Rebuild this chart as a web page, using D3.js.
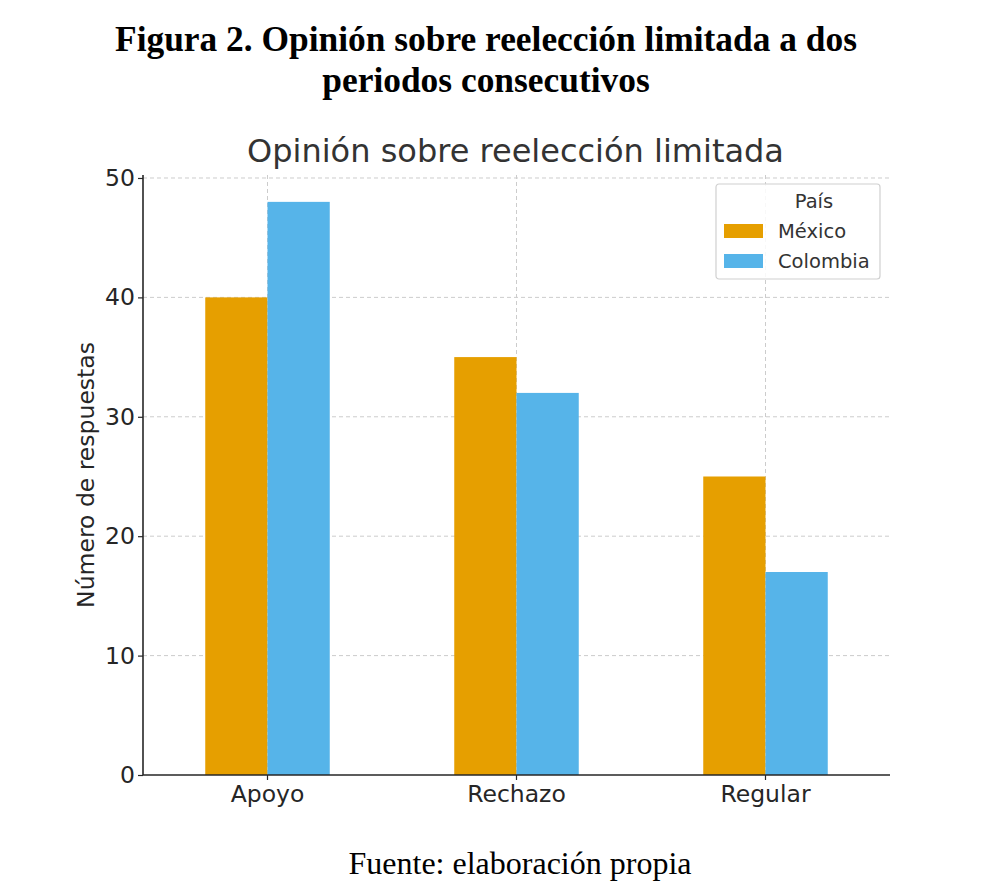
<!doctype html>
<html lang="es">
<head>
<meta charset="utf-8" />
<title>Opinión sobre reelección limitada</title>
<script src="https://cdn.jsdelivr.net/npm/d3@7"></script>
<style>
  body { margin: 0; background: #fff; }
  svg text { font-family: "DejaVu Sans", sans-serif; }
  .serif { font-family: "Liberation Serif", "Times New Roman", serif !important; fill: #000; }
  .grid line { stroke: #cccccc; stroke-dasharray: 4,3; stroke-width: 1; }
</style>
</head>
<body>
<div id="chart"></div>
<script>
// data
var categories = ["Apoyo", "Rechazo", "Regular"];
var countries = ["México", "Colombia"];
var mexico = [40, 35, 25];
var colombia = [48, 32, 17];
var yTicks = [0, 10, 20, 30, 40, 50];
var colours = ["#E69F00", "#56B4E9"];

var W = 1004, H = 895;
// plot box (not called "top": that name is taken by window.top)
var plotL = 143, plotR = 890, plotT = 175, plotB = 775;

var svg = d3.select("#chart").append("svg")
  .attr("width", W).attr("height", H);

// figure caption above and source below
svg.append("text").attr("class", "serif")
  .attr("x", 486).attr("y", 51)
  .attr("text-anchor", "middle").attr("font-size", "35.4px").attr("font-weight", "bold")
  .text("Figura 2. Opinión sobre reelección limitada a dos");
svg.append("text").attr("class", "serif")
  .attr("x", 486).attr("y", 92)
  .attr("text-anchor", "middle").attr("font-size", "35.4px").attr("font-weight", "bold")
  .text("periodos consecutivos");
svg.append("text").attr("class", "serif")
  .attr("x", 520).attr("y", 874)
  .attr("text-anchor", "middle").attr("font-size", "32px")
  .text("Fuente: elaboración propia");

var x = d3.scaleBand().domain(categories).range([plotL, plotR]);
var inner = d3.scaleBand().domain(countries)
  .range([x.bandwidth() * 0.25, x.bandwidth() * 0.75]);
var y = d3.scaleLinear().domain([0, 50.25]).range([plotB, plotT]);

// grid
var grid = svg.append("g").attr("class", "grid");
grid.selectAll(".hg").data(yTicks.slice(1)).enter().append("line")
  .attr("x1", plotL).attr("x2", plotR)
  .attr("y1", function(d){ return y(d); }).attr("y2", function(d){ return y(d); });
grid.selectAll(".vg").data(categories).enter().append("line")
  .attr("x1", function(d){ return x(d) + x.bandwidth()/2; })
  .attr("x2", function(d){ return x(d) + x.bandwidth()/2; })
  .attr("y1", plotT).attr("y2", plotB);

// bars
var rows = categories.map(function(c, i){
  return { cat: c, vals: [mexico[i], colombia[i]] };
});
var groups = svg.selectAll(".grp").data(rows).enter().append("g")
  .attr("transform", function(d){ return "translate(" + x(d.cat) + ",0)"; });
groups.selectAll("rect").data(function(d){ return d.vals; }).enter().append("rect")
  .attr("x", function(d, i){ return inner(countries[i]); })
  .attr("width", inner.bandwidth())
  .attr("y", function(d){ return y(d); })
  .attr("height", function(d){ return plotB - y(d); })
  .attr("fill", function(d, i){ return colours[i]; });

// axes
var yAxis = svg.append("g").attr("transform", "translate(" + plotL + ",0)")
  .call(d3.axisLeft(y).tickValues(yTicks).tickSize(5).tickPadding(3));
var xAxis = svg.append("g").attr("transform", "translate(0," + plotB + ")")
  .call(d3.axisBottom(x).tickSize(5).tickPadding(5));
[yAxis, xAxis].forEach(function(a){
  a.select(".domain").attr("stroke", "#262626").attr("stroke-width", 1.6);
  a.selectAll(".tick line").attr("stroke", "#262626").attr("stroke-width", 1.2);
  a.selectAll(".tick text").attr("fill", "#262626").attr("font-size", "23.5px");
});
// no end caps on the spines
yAxis.select(".domain").attr("d", "M0," + plotT + "V" + plotB);
xAxis.select(".domain").attr("d", "M" + plotL + ",0H" + plotR);

// titles
svg.append("text").attr("x", (plotL + plotR) / 2 - 1).attr("y", 162)
  .attr("text-anchor", "middle").attr("font-size", "32px").attr("fill", "#333")
  .text("Opinión sobre reelección limitada");
svg.append("text")
  .attr("transform", "translate(94," + ((plotT + plotB) / 2) + ") rotate(-90)")
  .attr("text-anchor", "middle").attr("font-size", "23.5px").attr("fill", "#262626")
  .text("Número de respuestas");

// legend
var lg = svg.append("g").attr("transform", "translate(716,184)");
lg.append("rect").attr("width", 164).attr("height", 95).attr("rx", 3)
  .attr("fill", "#fff").attr("fill-opacity", 0.85)
  .attr("stroke", "#d0d0d0").attr("stroke-width", 1.2);
lg.append("text").attr("x", 98).attr("y", 24).attr("text-anchor", "middle")
  .attr("font-size", "19.5px").attr("fill", "#333").text("País");
var items = lg.selectAll(".item").data(countries).enter().append("g")
  .attr("transform", function(d, i){ return "translate(8," + (40 + i * 30) + ")"; });
items.append("rect").attr("width", 39).attr("height", 14)
  .attr("fill", function(d, i){ return colours[i]; });
items.append("text").attr("x", 54).attr("y", 14)
  .attr("font-size", "19.5px").attr("fill", "#333")
  .text(function(d){ return d; });
</script>
</body>
</html>
